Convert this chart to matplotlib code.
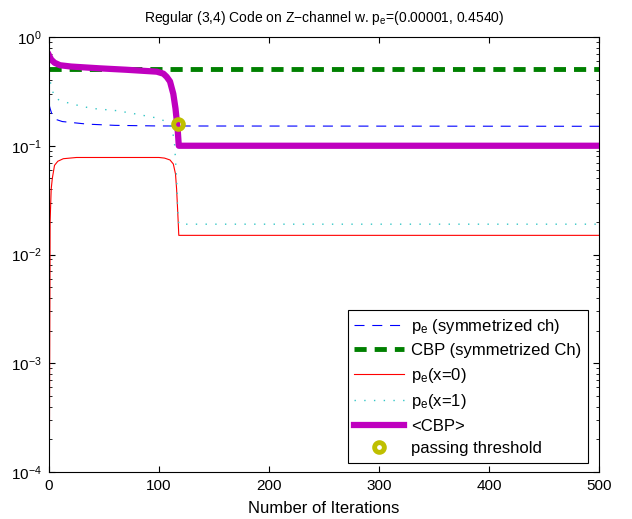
import numpy as np
import matplotlib
matplotlib.use('Agg')
import matplotlib.pyplot as plt

plt.rcParams['font.family'] = ['Liberation Sans', 'DejaVu Sans']
plt.rcParams['mathtext.default'] = 'regular'
plt.rcParams['font.size'] = 11

# values
it_sym = [0, 1, 3, 6, 12, 22, 35, 60, 100, 500]
pe_sym = [0.24, 0.22, 0.19, 0.175, 0.167, 0.163, 0.158, 0.154, 0.152, 0.151]

it_cbp_sym = [0, 500]
cbp_sym = [0.51, 0.51]

it_x0 = [0, 1, 2, 3, 5, 8, 13, 25, 100, 105, 110, 113, 115, 116, 117, 118, 500]
pe_x0 = [1e-5, 0.02, 0.04, 0.05, 0.066, 0.072, 0.076, 0.078, 0.078, 0.077,
         0.074, 0.068, 0.055, 0.04, 0.025, 0.015, 0.015]

it_x1 = [0, 1, 2, 5, 10, 16, 30, 40, 62, 80, 98, 108, 112, 114, 116, 117, 118, 500]
pe_x1 = [0.47, 0.40, 0.35, 0.28, 0.26, 0.25, 0.23, 0.22, 0.21, 0.195, 0.18,
         0.165, 0.14, 0.11, 0.05, 0.025, 0.019, 0.019]

it_cbp = [0, 2, 5, 10, 20, 46, 70, 98, 104, 107, 110, 113, 115, 117, 118, 500]
cbp_avg = [0.68, 0.62, 0.58, 0.55, 0.535, 0.515, 0.50, 0.48, 0.46, 0.43,
           0.39, 0.30, 0.22, 0.14, 0.1, 0.1]

thr_it = [117.5]
thr_val = [0.16]

fig = plt.figure(figsize=(6.32, 5.19), dpi=100)
ax = fig.add_axes([49 / 632, 1 - 472 / 519, 550 / 632, 435 / 519])

ax.semilogy(it_sym, pe_sym, color='#0000ff', lw=0.8, dashes=(9, 7),
            label=r'p$_e$ (symmetrized ch)')
ax.semilogy(it_cbp_sym, cbp_sym, color='#008000', lw=3.5, dashes=(2.5, 1.65),
            label='CBP (symmetrized Ch)')
ax.semilogy(it_x0, pe_x0, color='#ff0000', lw=0.8, label=r'p$_e$(x=0)')
ax.semilogy(it_x1, pe_x1, color='#33c6c6', lw=1.0, dashes=(1, 6),
            label=r'p$_e$(x=1)')
ax.semilogy(it_cbp, cbp_avg, color='#bf00bf', lw=4.5, label='<CBP>')
ax.semilogy(thr_it, thr_val, 'o', ms=7, mew=3.5, mfc='none', mec='#bfbf00',
            label='passing threshold')

ax.set_xlim(0, 500)
ax.set_ylim(1e-4, 1)
ax.set_xticks([0, 100, 200, 300, 400, 500])
ax.tick_params(which='both', direction='in', top=True, right=True)
ax.tick_params(which='major', length=4, pad=5)
ax.tick_params(which='minor', length=2.5)
ax.set_xlabel('Number of Iterations', fontsize=12, labelpad=6)
ax.set_title('Regular (3,4) Code on Z\u2212channel w. p$_e$=(0.00001, 0.4540)',
             fontsize=10, pad=11)

leg = ax.legend(loc='lower right', bbox_to_anchor=(0.98, 0.0207),
                borderaxespad=0, fancybox=False, framealpha=1,
                edgecolor='black', fontsize=12, handlelength=3.0,
                handletextpad=0.4, labelspacing=0.45, borderpad=0.4)
leg.get_frame().set_linewidth(0.8)

fig.savefig('out.png', dpi=100)
